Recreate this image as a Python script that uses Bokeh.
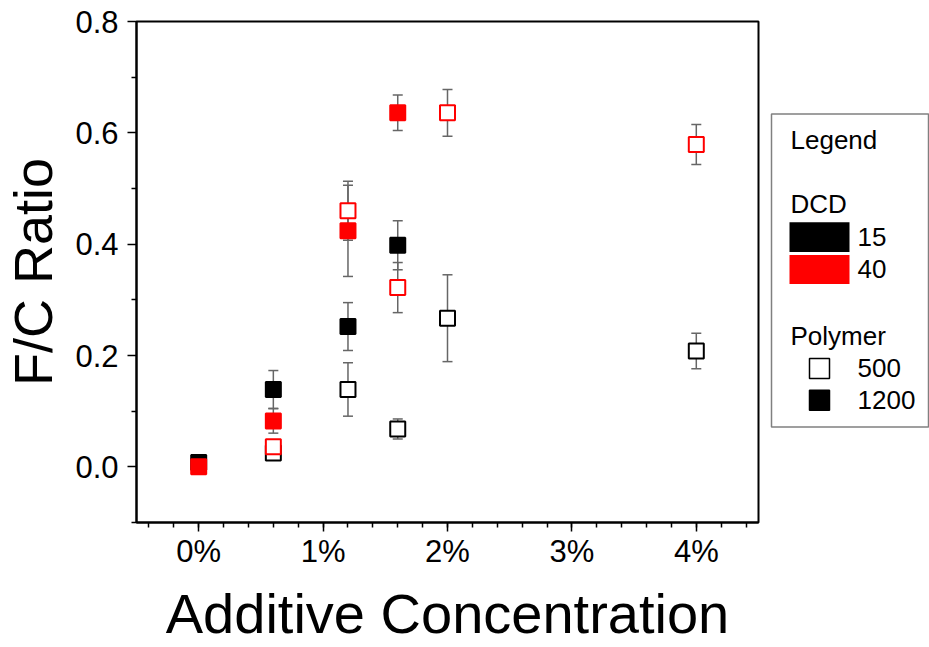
import numpy as np
from bokeh.plotting import figure
from bokeh.layouts import row
from bokeh.models import (Range1d, FixedTicker, PrintfTickFormatter, Whisker,
                          ColumnDataSource, TeeHead)
from bokeh.core.properties import value
from bokeh.embed import file_html
from bokeh.resources import INLINE

FONT = "Liberation Sans"

# ---------------- data ----------------
# additive concentration in %
b500_x = [0.6, 1.2, 1.6, 2.0, 4.0]          # DCD 15, Polymer 500 (black open)
b500_y = [0.025, 0.139, 0.068, 0.267, 0.208]
b500_e = [0.010, 0.048, 0.018, 0.078, 0.032]

b1200_x = [0.0, 0.6, 1.2, 1.6]              # DCD 15, Polymer 1200 (black filled)
b1200_y = [0.008, 0.139, 0.252, 0.398]
b1200_e = [0.0, 0.034, 0.043, 0.044]

r500_x = [0.6, 1.2, 1.6, 2.0, 4.0]          # DCD 40, Polymer 500 (red open)
r500_y = [0.036, 0.460, 0.322, 0.636, 0.579]
r500_e = [0.010, 0.053, 0.045, 0.042, 0.036]

r1200_x = [0.0, 0.6, 1.2, 1.6]              # DCD 40, Polymer 1200 (red filled)
r1200_y = [0.000, 0.0825, 0.424, 0.636]
r1200_e = [0.0, 0.022, 0.082, 0.032]

x_ticks = [0, 1, 2, 3, 4]
x_tick_labels = ["0%", "1%", "2%", "3%", "4%"]
y_ticks = [0.0, 0.2, 0.4, 0.6, 0.8]

legend_title = "Legend"
dcd_header = "DCD"
dcd_labels = ["15", "40"]
poly_header = "Polymer"
poly_labels = ["500", "1200"]

# ---------------- main plot ----------------
p = figure(width=760, height=647, x_range=Range1d(-0.5, 4.5), y_range=Range1d(-0.1, 0.8),
           output_backend="svg", toolbar_location=None,
           min_border_left=135, min_border_right=2, min_border_top=21, min_border_bottom=122)
p.grid.visible = False
p.outline_line_color = "black"
p.outline_line_width = 2
p.background_fill_color = "white"
p.border_fill_color = "white"

p.xaxis.ticker = FixedTicker(ticks=x_ticks, minor_ticks=list(np.round(np.arange(-0.4, 4.5, 0.2), 2)))
p.xaxis.major_label_overrides = {t: l for t, l in zip(x_ticks, x_tick_labels)}
p.yaxis.ticker = FixedTicker(ticks=y_ticks, minor_ticks=[-0.1, 0.1, 0.3, 0.5, 0.7])
p.yaxis.formatter = PrintfTickFormatter(format="%.1f")

for ax in (p.xaxis[0], p.yaxis[0]):
    ax.axis_line_width = 2
    ax.axis_line_color = "black"
    ax.major_tick_in = 0
    ax.major_tick_out = 9
    ax.minor_tick_in = 0
    ax.minor_tick_out = 5
    ax.major_tick_line_width = 1.5
    ax.minor_tick_line_width = 1.5
    ax.major_label_text_font = FONT
    ax.axis_label_text_font = FONT
    ax.axis_label_text_font_style = "normal"
    ax.axis_label_text_color = "black"
    ax.major_label_text_color = "black"

p.xaxis.axis_label = "Additive Concentration"
p.xaxis.axis_label_text_font_size = "56px"
p.xaxis.major_label_text_font_size = "31px"
p.xaxis.major_label_standoff = 2
p.xaxis.axis_label_standoff = 10

p.yaxis.axis_label = "F/C Ratio"
p.yaxis.axis_label_text_font_size = "54px"
p.yaxis.major_label_text_font_size = "31px"
p.yaxis.major_label_standoff = 9
p.yaxis.axis_label_standoff = 9

err_color = "#666666"


def add_series(xs, ys, es, color, filled):
    src = ColumnDataSource(dict(x=xs, y=ys,
                                upper=[y + e for y, e in zip(ys, es)],
                                lower=[y - e for y, e in zip(ys, es)]))
    w = Whisker(source=src, base="x", upper="upper", lower="lower",
                line_color=err_color, line_width=1.5,
                upper_head=TeeHead(size=10, line_color=err_color, line_width=1.5),
                lower_head=TeeHead(size=10, line_color=err_color, line_width=1.5))
    p.add_layout(w)
    p.scatter("x", "y", source=src, marker="square", size=15, line_width=2,
              line_color=color, fill_color=color if filled else "white")


add_series(b500_x, b500_y, b500_e, "black", False)
add_series(r500_x, r500_y, r500_e, "red", False)
add_series(b1200_x, b1200_y, b1200_e, "black", True)
add_series(r1200_x, r1200_y, r1200_e, "red", True)

# ---------------- legend panel (pixel coordinates, frame aligned with main plot) ----------------
lg = figure(width=169, height=647, x_range=Range1d(760, 929), y_range=Range1d(525, 21),
            output_backend="svg", toolbar_location=None,
            x_axis_location=None, y_axis_location=None,
            min_border_left=0, min_border_right=0, min_border_top=21, min_border_bottom=122)
lg.grid.visible = False
lg.outline_line_color = None

lg.quad(left=[771], right=[928], top=[114], bottom=[429], fill_color=None,
        line_color="#808080", line_width=1.5)

txt_x = [790, 790, 857, 857, 790, 857, 857]
txt_y = [140, 205, 238, 270, 337, 370, 402]
txt = [legend_title, dcd_header, dcd_labels[0], dcd_labels[1], poly_header, poly_labels[0], poly_labels[1]]
lg.text(x=txt_x, y=txt_y, text=txt, text_font=value(FONT), text_font_size="26px",
        text_baseline="middle", text_align="left", text_color="black")

lg.quad(left=[789, 789], right=[849, 849], top=[223, 256], bottom=[253, 285],
        fill_color=["black", "red"], line_color=None)
lg.scatter(x=[819, 819], y=[370, 402], marker="square", size=20, line_width=1.5,
           line_color="black", fill_color=["white", "black"])

layout = row(p, lg, spacing=0)
open("out.html", "w").write(file_html(layout, INLINE))
